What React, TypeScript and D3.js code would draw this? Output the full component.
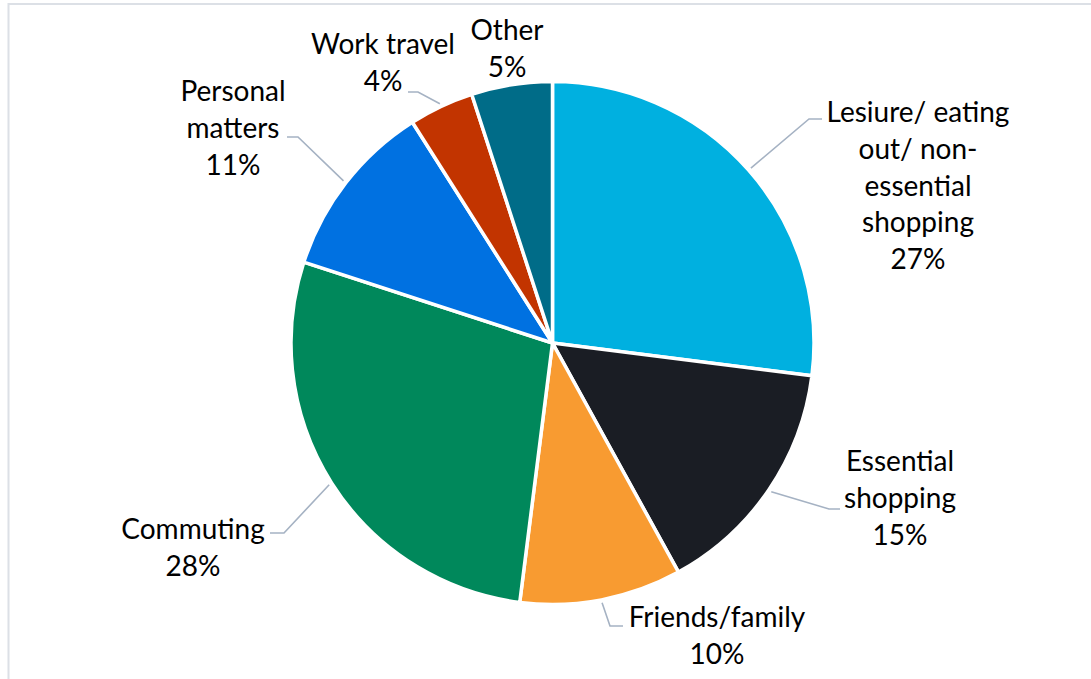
import React from "react";
import * as d3 from "d3";

// ---- data ----
const categories = [
  "Lesiure/ eating out/ non-essential shopping",
  "Essential shopping",
  "Friends/family",
  "Commuting",
  "Personal matters",
  "Work travel",
  "Other",
];
const values = [27, 15, 10, 28, 11, 4, 5];
const labelLines = [
  ["Lesiure/ eating", "out/ non-", "essential", "shopping"],
  ["Essential", "shopping"],
  ["Friends/family"],
  ["Commuting"],
  ["Personal", "matters"],
  ["Work travel"],
  ["Other"],
];
const colors = ["#00B0E0", "#1A1D24", "#F89B31", "#00885B", "#0071E1", "#C23400", "#006C88"];

// ---- layout (label placement, like manually placed data labels) ----
const W = 1091;
const H = 679;
const CX = 552.5;
const CY = 343;
const R = 261.5;
const LINE_H = 36.8;
const FONT = "Lato, 'Open Sans', sans-serif";
const FONT_SIZE = 28;
// label: centre x, first baseline y, leader horizontal end (x,y) and elbow x (null = no leader)
const labelLayout = [
  { x: 918, y: 122, lx: 822, ly: 119, ex: 809 },
  { x: 900, y: 471, lx: 840, ly: 509, ex: 829 },
  { x: 717, y: 627, lx: 623, ly: 626, ex: 610 },
  { x: 193, y: 539, lx: 270, ly: 533, ex: 284 },
  { x: 233, y: 101, lx: 287, ly: 137, ex: 298 },
  { x: 383, y: 54, lx: 408, ly: 92, ex: 418 },
  { x: 507, y: 40, lx: null, ly: null, ex: null },
];

export default function App() {
  const total = d3.sum(values);
  const pie = d3
    .pie<number>()
    .sort(null)
    .value((d) => d)
    .startAngle(0)
    .endAngle(2 * Math.PI);
  const arcs = pie(values);
  const arc = d3.arc<d3.PieArcDatum<number>>().innerRadius(0).outerRadius(R);

  return (
    <svg
      width={W}
      height={H}
      style={{ position: "absolute", left: 0, top: 0, background: "#fff" }}
    >
      <rect x={8.5} y={4} width={W + 10} height={H + 10} fill="#fff" stroke="#DCE0E6" strokeWidth={2} />
      <g transform={`translate(${CX},${CY})`}>
        {arcs.map((a, i) => (
          <path key={categories[i]} d={arc(a) || ""} fill={colors[i]} stroke="#fff" strokeWidth={3.5} strokeLinejoin="round" />
        ))}
      </g>
      {arcs.map((a, i) => {
        const L = labelLayout[i];
        if (L.lx == null) return null;
        const mid = (a.startAngle + a.endAngle) / 2;
        const sx = CX + Math.sin(mid) * (R + 3);
        const sy = CY - Math.cos(mid) * (R + 3);
        return (
          <polyline
            key={"l" + i}
            points={`${sx},${sy} ${L.ex},${L.ly} ${L.lx},${L.ly}`}
            fill="none"
            stroke="#A5B2C3"
            strokeWidth={1.6}
          />
        );
      })}
      {arcs.map((a, i) => {
        const L = labelLayout[i];
        const lines = [...labelLines[i], `${Math.round((values[i] / total) * 100)}%`];
        return (
          <text
            key={"t" + i}
            x={L.x}
            y={L.y}
            textAnchor="middle"
            fontFamily={FONT}
            fontSize={FONT_SIZE}
            fill="#000"
          >
            {lines.map((s, j) => (
              <tspan key={j} x={L.x} y={L.y + j * LINE_H}>
                {s}
              </tspan>
            ))}
          </text>
        );
      })}
    </svg>
  );
}
